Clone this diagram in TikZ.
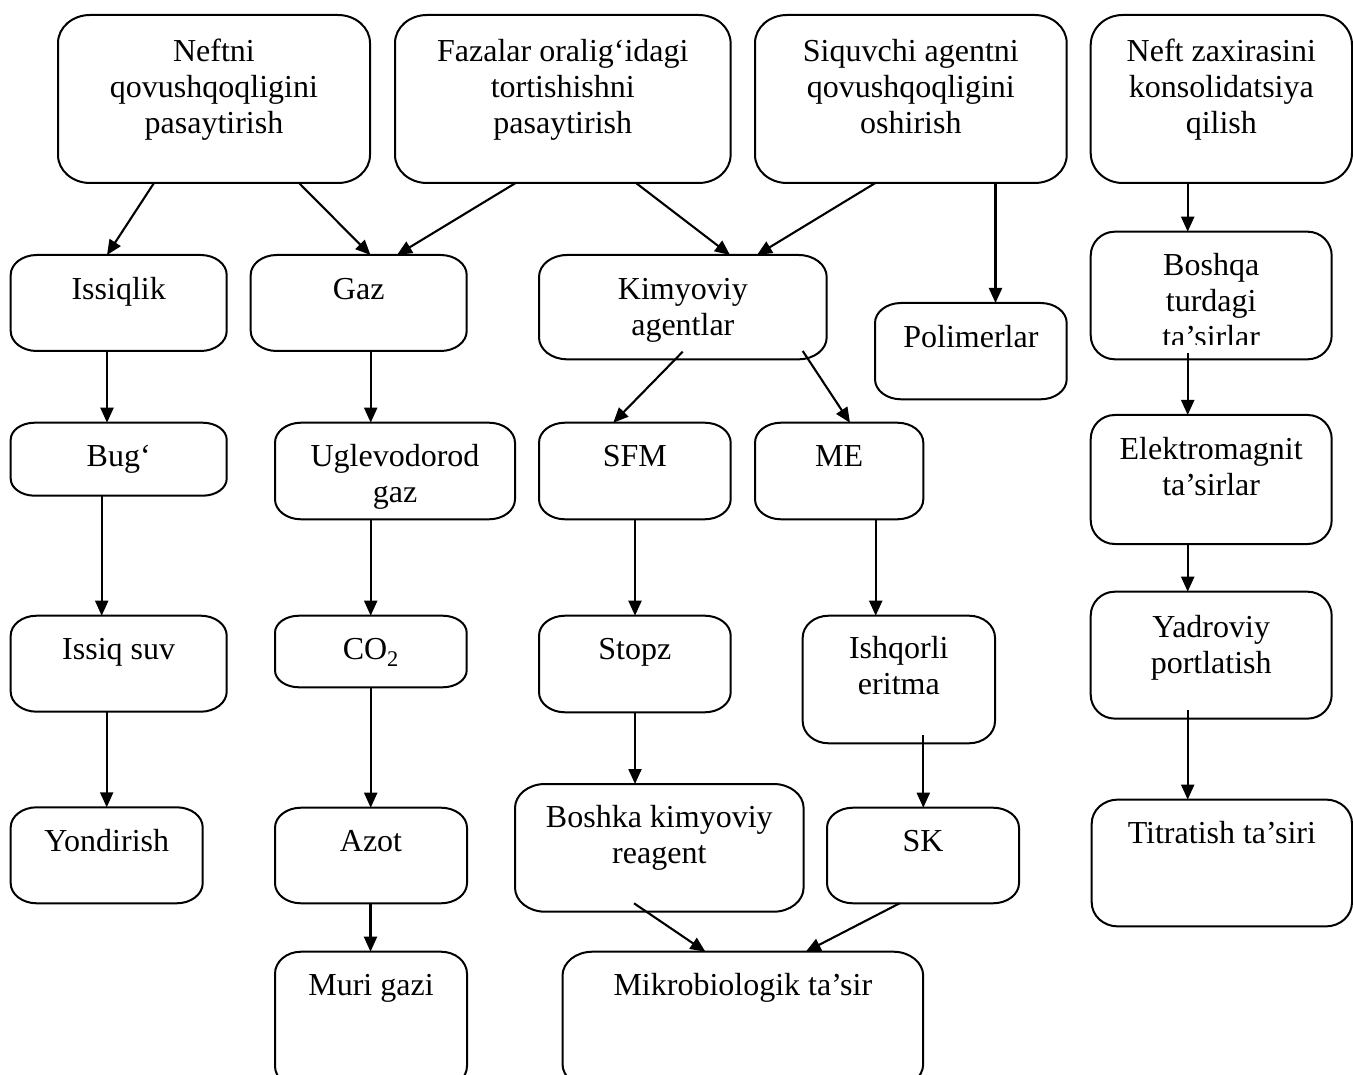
\documentclass[tikz,border=0pt]{standalone}
\usepackage{fontspec}
\setmainfont{Liberation Serif}
\usetikzlibrary{arrows.meta,calc}
\tikzset{
  boxline/.style={line width=2pt, fill=white},
  arr/.style={line width=2.1pt, -{Triangle[length=15pt,width=13pt]}},
  txt/.style={anchor=north, inner sep=0pt, align=center, font=\fontsize{32}{36}\selectfont},
}
% #1 name, #2 x1, #3 y1, #4 x2, #5 y2, #6 rx, #7 ry
\newcommand\bx[7]{%
  \node[inner sep=0pt, outer sep=0pt, minimum width={(#4-#2)*1pt}, minimum height={(#5-#3)*1pt}] (#1) at ({(#2+#4)/2},{(#3+#5)/2}) {};
  \draw[boxline] ({#2+#6},#3) -- ({#4-#6},#3)
    arc[start angle=90,end angle=0,x radius=#6pt,y radius=#7pt]
    -- (#4,{#5-#7})
    arc[start angle=0,end angle=-90,x radius=#6pt,y radius=#7pt]
    -- ({#2+#6},#5)
    arc[start angle=-90,end angle=-180,x radius=#6pt,y radius=#7pt]
    -- (#2,{#3+#7})
    arc[start angle=180,end angle=90,x radius=#6pt,y radius=#7pt]
    -- cycle;
}
% #1 box name, #2 baseline offset from top, #3 text
\newcommand\tx[3]{%
  \node[txt] (#1-t) at ($(#1.north)+(0,{#2-23})$) {\rule{0pt}{23pt}#3};
}
\begin{document}
\begin{tikzpicture}[x=1pt,y=-1pt]
\fill[white] (0,0) rectangle (1353,1075);
\useasboundingbox (0,0) rectangle (1353,1075);

% boxes
\bx{neftni}{58}{15}{370}{183}{32}{28}
\bx{fazalar}{395}{15}{730.6}{183}{32}{28}
\bx{siquvchi}{755}{15}{1066.7}{183}{32}{28}
\bx{neftzax}{1090.7}{15}{1352}{183}{32}{30}
\bx{issiqlik}{10.7}{255}{226.7}{351}{26}{20}
\bx{gaz}{250.7}{255}{466.7}{351}{26}{20}
\bx{kimyo}{539}{255}{826.7}{359.3}{28}{22}
\bx{polimer}{875}{303}{1066.7}{399.3}{26}{20}
\bx{boshqa}{1090.7}{231.7}{1331.7}{359.3}{24}{24}
\bx{bug}{10.7}{422.7}{226.7}{495.7}{24}{17}
\bx{uglevod}{275}{422.7}{515}{519.3}{26}{20}
\bx{sfm}{539}{422.7}{730.7}{519.3}{26}{20}
\bx{me}{755}{422.7}{923.3}{519.3}{26}{20}
\bx{elektro}{1090.7}{415}{1331.7}{544}{24}{24}
\bx{issiqsuv}{10.7}{615.7}{226.7}{711.7}{26}{20}
\bx{co2}{275}{615.7}{466.7}{687.3}{24}{17}
\bx{stopz}{539}{615.7}{730.7}{712.3}{26}{20}
\bx{ishqorli}{802.7}{615.7}{995}{743.3}{26}{22}
\bx{yadro}{1090.7}{591.7}{1331.7}{718.6}{24}{24}
\bx{yondir}{10.7}{807.3}{202.7}{903.3}{26}{20}
\bx{azot}{275}{807.7}{467}{903.3}{26}{20}
\bx{boshka}{515}{784}{803.6}{911.7}{30}{24}
\bx{sk}{827}{807.7}{1019}{903.3}{26}{20}
\bx{muri}{275}{951.7}{467}{1088}{26}{22}
\bx{mikro}{562.5}{951.7}{923.2}{1088}{30}{24}
\bx{titrat}{1091.7}{799.6}{1352}{926.4}{26}{24}

% texts
\tx{neftni}{46}{Neftni\\qovushqoqligini\\pasaytirish}
\tx{fazalar}{46}{Fazalar oralig‘idagi\\tortishishni\\pasaytirish}
\tx{siquvchi}{46}{Siquvchi agentni\\qovushqoqligini\\oshirish}
\tx{neftzax}{46}{Neft zaxirasini\\konsolidatsiya\\qilish}
\tx{issiqlik}{44}{Issiqlik}
\tx{gaz}{44}{Gaz}
\tx{kimyo}{44}{Kimyoviy\\agentlar}
\tx{polimer}{44}{Polimerlar}
\begin{scope}
\clip (1090,231) rectangle (1332,345);
\tx{boshqa}{44}{Boshqa\\turdagi\\ta’sirlar}
\end{scope}
\tx{bug}{44}{Bug‘}
\tx{uglevod}{44}{Uglevodorod\\gaz}
\tx{sfm}{44}{SFM}
\tx{me}{44}{ME}
\tx{elektro}{44}{Elektromagnit\\ta’sirlar}
\tx{issiqsuv}{44}{Issiq suv}
\tx{co2}{44}{CO\textsubscript{2}}
\tx{stopz}{44}{Stopz}
\tx{ishqorli}{43}{Ishqorli\\eritma}
\tx{yadro}{46}{Yadroviy\\portlatish}
\tx{yondir}{44}{Yondirish}
\tx{azot}{44}{Azot}
\tx{boshka}{43}{Boshka kimyoviy\\reagent}
\tx{sk}{44}{SK}
\tx{muri}{44}{Muri gazi}
\tx{mikro}{44}{Mikrobiologik ta’sir}
\tx{titrat}{44}{Titratish ta’siri}

% connectors
\draw[arr] ($(neftni.south west)+(96,0)$) -- ($(issiqlik.north west)+(96.3,0)$);
\draw[arr] ($(neftni.south west)+(241,0)$) -- ($(gaz.north west)+(119.8,0)$);
\draw[arr] ($(fazalar.south west)+(120.6,0)$) -- ($(gaz.north west)+(146.3,0)$);
\draw[arr] ($(fazalar.south west)+(241,0)$) -- ($(kimyo.north west)+(191,0)$);
\draw[arr] ($(siquvchi.south west)+(120.3,0)$) -- ($(kimyo.north west)+(218,0)$);
\draw[arr] ($(siquvchi.south west)+(240.5,0)$) -- ($(polimer.north west)+(120.5,0)$);
\draw[arr] ($(neftzax.south west)+(97,0)$) -- ($(boshqa.north west)+(97,0)$);
\draw[arr] ($(issiqlik.south west)+(96.3,0)$) -- ($(bug.north west)+(96.3,0)$);
\draw[arr] ($(gaz.south west)+(120,0)$) -- ($(uglevod.north west)+(95.7,0)$);
\draw[arr] ($(kimyo.south west)+(143.7,-7.6)$) -- ($(sfm.north west)+(74.3,0)$);
\draw[arr] ($(kimyo.south west)+(263.7,-8.3)$) -- ($(me.north west)+(95,0)$);
\draw[arr] ($(boshqa.south west)+(97,-6.3)$) -- ($(elektro.north west)+(97,0)$);
\draw[arr] ($(bug.south west)+(91,0)$) -- ($(issiqsuv.north west)+(91,0)$);
\draw[arr] ($(uglevod.south west)+(95.7,0)$) -- ($(co2.north west)+(95.7,0)$);
\draw[arr] ($(sfm.south west)+(96,0)$) -- ($(stopz.north west)+(96,0)$);
\draw[arr] ($(me.south west)+(120.7,0)$) -- ($(ishqorli.north west)+(73,0)$);
\draw[arr] ($(elektro.south west)+(97,0)$) -- ($(yadro.north west)+(97,0)$);
\draw[arr] ($(issiqsuv.south west)+(96,0)$) -- ($(yondir.north west)+(96,0)$);
\draw[arr] ($(co2.south west)+(95.7,0)$) -- ($(azot.north west)+(95.7,0)$);
\draw[arr] ($(stopz.south west)+(96,0)$) -- ($(boshka.north west)+(120,0)$);
\draw[arr] ($(ishqorli.south west)+(120.6,-8.3)$) -- ($(sk.north west)+(96.3,0)$);
\draw[arr] ($(yadro.south west)+(97,-8.6)$) -- ($(titrat.north west)+(96,0)$);
\draw[arr] ($(azot.south west)+(95.5,0)$) -- ($(muri.north west)+(95.5,0)$);
\draw[arr] ($(boshka.south west)+(119,-8.4)$) -- ($(mikro.north west)+(142.9,0)$);
\draw[arr] ($(sk.south west)+(72.6,0)$) -- ($(mikro.north west)+(243.3,0)$);
\end{tikzpicture}
\end{document}
